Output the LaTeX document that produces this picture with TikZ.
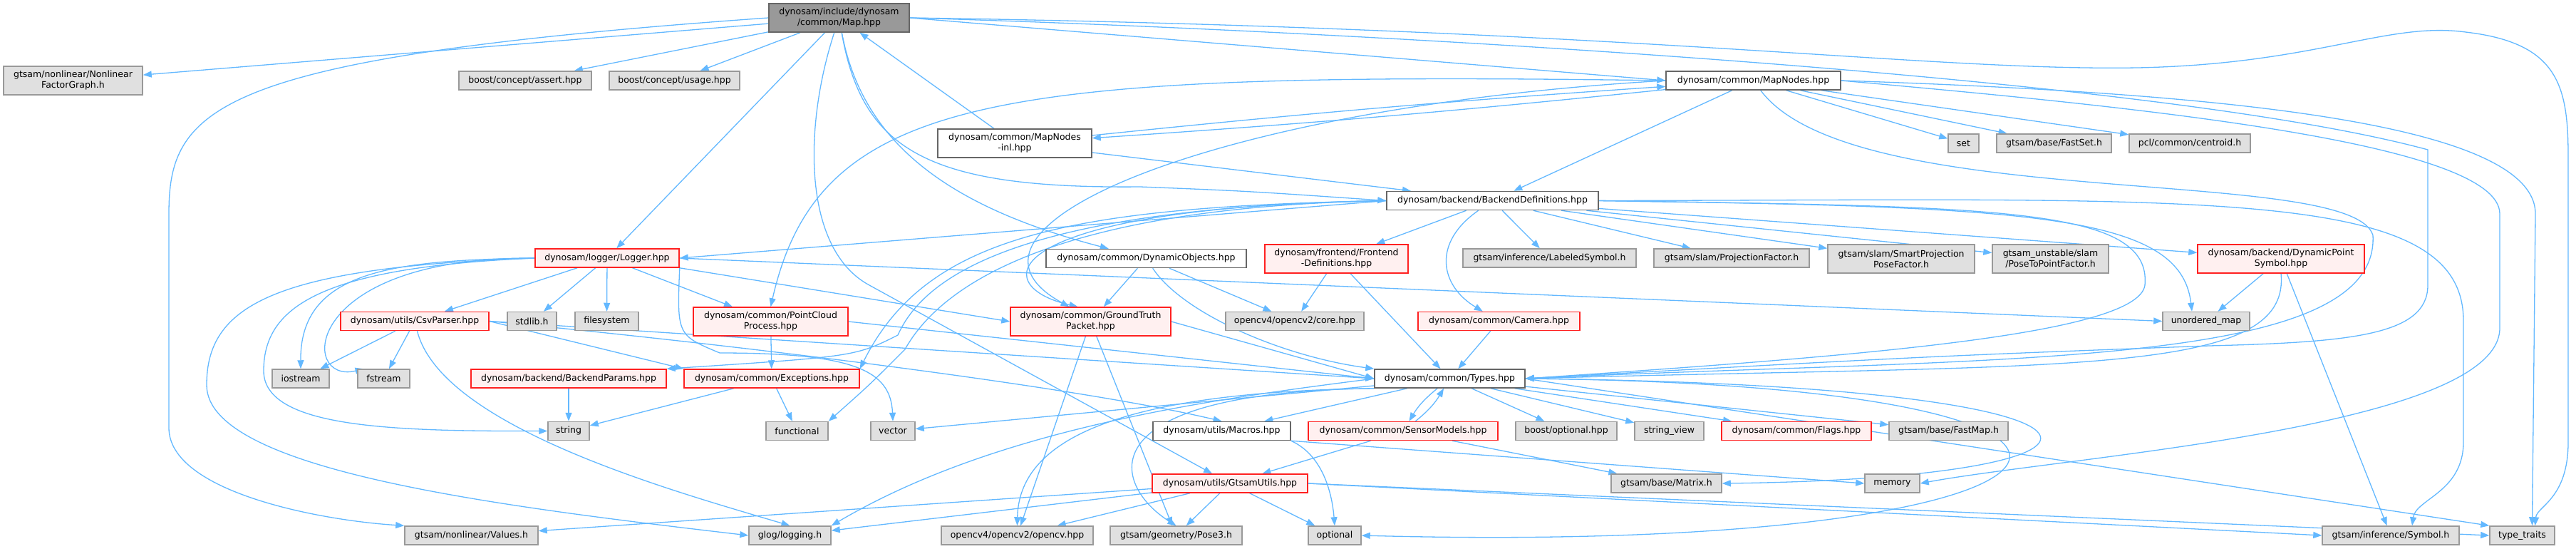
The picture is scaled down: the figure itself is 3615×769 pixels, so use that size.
\documentclass[tikz,border=0pt]{standalone}
\usepackage{fontspec}
\setmainfont{DejaVu Sans}
\usepackage{xcolor}
\usepackage{tikz}
\usetikzlibrary{arrows.meta,positioning,backgrounds}

\definecolor{edgeblue}{HTML}{63B8FF}
\definecolor{mainfill}{HTML}{999999}
\definecolor{mainline}{HTML}{666666}
\definecolor{extfill}{HTML}{E0E0E0}
\definecolor{extline}{HTML}{999999}
\definecolor{truncfill}{HTML}{FFF0F0}
\definecolor{truncline}{HTML}{FF2020}

\begin{document}
\begin{tikzpicture}[x=1pt, y=-1pt,
  file/.style={draw, line width=1.5pt, align=center, minimum height=26pt,
               inner xsep=3pt, inner ysep=0pt, font=\fontsize{12.5}{15}\selectfont},
  mainfile/.style={file, fill=mainfill, draw=mainline},
  localfile/.style={file, fill=white, draw=mainline},
  truncfile/.style={file, fill=truncfill, draw=truncline},
  extfile/.style={file, fill=extfill, draw=extline},
  wd/.style={minimum width=#1pt},
  tall/.style={minimum height=40pt},
  inc/.style={-{Triangle[length=12pt,width=9pt]}, draw=edgeblue, line width=1.3pt}
]
\useasboundingbox (0,0) rectangle (3615,769);

% top rows
\node[mainfile, wd=197, tall] (map) at (1177.5,25) {dynosam/include/dynosam\\/common/Map.hpp};
\node[extfile, wd=195, tall] (nfg) at (102.5,113) {gtsam/nonlinear/Nonlinear\\FactorGraph.h};
\node[extfile, wd=186] (assert) at (737,113) {boost/concept/assert.hpp};
\node[extfile, wd=183] (usage) at (946.5,113) {boost/concept/usage.hpp};
\node[localfile, wd=245] (mapnodes) at (2460.5,113) {dynosam/common/MapNodes.hpp};
\node[localfile, wd=216, tall] (mapnodesinl) at (1424,201) {dynosam/common/MapNodes\\-inl.hpp};
\node[extfile, wd=43] (set) at (2755.5,201) {set};
\node[extfile, wd=161] (fastset) at (2882.5,201) {gtsam/base/FastSet.h};
\node[extfile, wd=170] (centroid) at (3073,201) {pcl/common/centroid.h};
\node[localfile, wd=297] (backenddefs) at (2094.5,281.5) {dynosam/backend/BackendDefinitions.hpp};

% middle rows
\node[truncfile, wd=202] (logger) at (852,362) {dynosam/logger/Logger.hpp};
\node[localfile, wd=281] (dynobjects) at (1608.5,362.5) {dynosam/common/DynamicObjects.hpp};
\node[truncfile, wd=201, tall] (frontenddefs) at (1875.5,363) {dynosam/frontend/Frontend\\-Definitions.hpp};
\node[extfile, wd=243] (labeledsym) at (2174.5,362) {gtsam/inference/LabeledSymbol.h};
\node[extfile, wd=218] (projfactor) at (2430,362) {gtsam/slam/ProjectionFactor.h};
\node[extfile, wd=206, tall] (smartproj) at (2668,363) {gtsam/slam/SmartProjection\\PoseFactor.h};
\node[extfile, wd=163, tall] (posetopoint) at (2877.5,363) {gtsam\_unstable/slam\\/PoseToPointFactor.h};
\node[truncfile, wd=234, tall] (dynpointsym) at (3201,363) {dynosam/backend/DynamicPoint\\Symbol.hpp};
\node[truncfile, wd=208] (csvparser) at (582,450.5) {dynosam/utils/CsvParser.hpp};
\node[extfile, wd=69] (stdlib) at (746.5,450.5) {stdlib.h};
\node[extfile, wd=89] (filesystem) at (851.5,450.5) {filesystem};
\node[truncfile, wd=217, tall] (pcprocess) at (1081.5,451) {dynosam/common/PointCloud\\Process.hpp};
\node[truncfile, wd=225, tall] (gtpacket) at (1530.5,451) {dynosam/common/GroundTruth\\Packet.hpp};
\node[extfile, wd=194] (cvcore) at (1817,450.5) {opencv4/opencv2/core.hpp};
\node[truncfile, wd=227] (camera) at (2103.5,450.5) {dynosam/common/Camera.hpp};
\node[extfile, wd=122] (unorderedmap) at (3096,450.5) {unordered\_map};
\node[extfile, wd=80] (iostream) at (422,531) {iostream};
\node[extfile, wd=73] (fstream) at (538.5,531) {fstream};
\node[truncfile, wd=274] (backendparams) at (798,531) {dynosam/backend/BackendParams.hpp};
\node[truncfile, wd=246] (exceptions) at (1083,531) {dynosam/common/Exceptions.hpp};
\node[localfile, wd=211] (types) at (2034.5,531) {dynosam/common/Types.hpp};

% lower rows
\node[extfile, wd=58] (string) at (798,604.5) {string};
\node[extfile, wd=87] (functional) at (1118.5,604.5) {functional};
\node[extfile, wd=62] (vector) at (1253,604.5) {vector};
\node[localfile, wd=193] (macros) at (1714.5,604.5) {dynosam/utils/Macros.hpp};
\node[truncfile, wd=266] (sensormodels) at (1969,604.5) {dynosam/common/SensorModels.hpp};
\node[extfile, wd=142] (boostoptional) at (2198,604.5) {boost/optional.hpp};
\node[extfile, wd=97] (stringview) at (2342.5,604.5) {string\_view};
\node[truncfile, wd=210] (flags) at (2521,604.5) {dynosam/common/Flags.hpp};
\node[extfile, wd=167] (fastmap) at (2734.5,604.5) {gtsam/base/FastMap.h};
\node[truncfile, wd=218] (gtsamutils) at (1726,678) {dynosam/utils/GtsamUtils.hpp};
\node[extfile, wd=155] (matrix) at (2338.5,678) {gtsam/base/Matrix.h};
\node[extfile, wd=77] (memory) at (2655.5,678) {memory};
\node[extfile, wd=187] (values) at (661.5,751) {gtsam/nonlinear/Values.h};
\node[extfile, wd=115] (glog) at (1108.5,751) {glog/logging.h};
\node[extfile, wd=213] (opencv) at (1427.5,751) {opencv4/opencv2/opencv.hpp};
\node[extfile, wd=185] (pose3) at (1650.5,751) {gtsam/geometry/Pose3.h};
\node[extfile, wd=74] (optional) at (1873,751) {optional};
\node[extfile, wd=192] (symbol) at (3355,751) {gtsam/inference/Symbol.h};
\node[extfile, wd=91] (typetraits) at (3539.5,751) {type\_traits};

\begin{scope}[on background layer]
% Map.hpp
\foreach \t in {nfg,assert,usage,logger} \draw[inc] (map) -- (\t);
\draw[inc] (map.east) -- (mapnodes.west);
\draw[inc] (map.west) .. controls (300,80) and (237,150) .. (237,300) -- (237,600)
  .. controls (237,690) and (450,730) .. (values.north west);
\draw[inc] (map) .. controls (1127,180) and (1127,350) .. (1220,400) -- (gtsamutils);
\draw[inc] (map) .. controls (1210,200) and (1330,290) .. (dynobjects);
\draw[inc] (map) .. controls (1210,210) and (1300,265) .. (1600,262) .. controls (1750,268) .. (backenddefs.west);
\draw[inc] (map.east) .. controls (2300,40) and (2700,100) .. (3000,95) .. controls (3250,90) and (3350,30) .. (3460,45)
  .. controls (3590,60) and (3604,120) .. (3604,220) -- (3604,620) .. controls (3604,700) and (3560,710) .. ([xshift=18pt]typetraits.north);
\draw[inc] (map.east) .. controls (1800,40) and (3000,100) .. (3407,210) -- (3407,400)
  .. controls (3407,470) and (3300,480) .. (3100,485) .. controls (2700,500) .. (types.east);

% MapNodes
\draw[inc] (mapnodesinl) -- (map);
\draw[inc] (mapnodesinl) to[bend left=1] (mapnodes);
\draw[inc] (mapnodes) to[bend left=1] (mapnodesinl);
\draw[inc] (mapnodesinl) -- (backenddefs);
\foreach \t in {set,fastset,centroid,backenddefs} \draw[inc] (mapnodes) -- (\t);
\draw[inc] (mapnodes.west) .. controls (1400,100) and (1150,130) .. (pcprocess.north);
\draw[inc] (mapnodes.west) .. controls (1700,150) and (1300,320) .. ([xshift=-30pt]gtpacket.north);
\draw[inc] (mapnodes) .. controls (2600,300) and (3300,230) .. (3330,330) .. controls (3340,520) and (2800,500) .. (types.east);
\draw[inc] (mapnodes.east) .. controls (3000,150) and (3508,200) .. (3508,300) -- (3508,460)
  .. controls (3508,600) and (2900,640) .. (memory.east);
\draw[inc] (mapnodes.east) .. controls (3100,130) and (3558,170) .. (3558,300) -- ([xshift=14pt]typetraits.north);

% BackendDefinitions
\foreach \t in {frontenddefs,labeledsym,projfactor,smartproj,posetopoint,dynpointsym} \draw[inc] (backenddefs) -- (\t);
\draw[inc] (backenddefs) .. controls (2010,340) and (2020,400) .. (camera);
\draw[inc] (backenddefs.east) .. controls (2850,290) and (3060,300) .. ([xshift=-20pt]unorderedmap.north);
\draw[inc] (backenddefs.east) .. controls (2800,290) and (3020,290) .. (3010,400) .. controls (3000,470) and (2600,500) .. (types.east);
\draw[inc] (backenddefs.east) .. controls (3100,280) and (3457,260) .. (3457,450) -- (3457,620)
  .. controls (3457,690) and (3390,700) .. ([xshift=30pt]symbol.north);
\draw[inc] (backenddefs.west) -- (logger.east);
\draw[inc] (backenddefs.west) .. controls (1400,290) and (1380,400) .. ([xshift=-18pt]gtpacket.north);
\draw[inc] (backenddefs.west) .. controls (1500,290) and (1300,330) .. (exceptions.north east);
\draw[inc] (backenddefs.west) .. controls (1450,290) and (1300,380) .. (1260,470) .. controls (1200,500) .. (backendparams.north east);
\draw[inc] (backenddefs.west) .. controls (1480,290) and (1320,400) .. (1270,490) .. controls (1220,540) .. (functional.north east);

% Logger
\foreach \t in {csvparser,stdlib,filesystem,pcprocess} \draw[inc] (logger) -- (\t);
\draw[inc] (logger.west) .. controls (550,365) and (421,380) .. (iostream.north);
\draw[inc] (logger.west) .. controls (420,360) and (420,540) .. ([xshift=-28pt]fstream.north);
\draw[inc] (logger.west) .. controls (450,375) and (370,430) .. (370,520) .. controls (370,600) and (550,605) .. (string.west);
\draw[inc] (logger.west) .. controls (380,375) and (290,430) .. (290,540) .. controls (290,660) and (700,710) .. (glog.west);
\draw[inc] (logger.east) -- (unorderedmap.west);
\draw[inc] (logger.south east) -- (gtpacket.west);
\draw[inc] (logger.south east) .. controls (950,470) .. (1010,495) .. controls (1200,495) and (1250,520) .. (vector.north);

% CsvParser, PointCloud
\draw[inc] (csvparser) -- (iostream);
\draw[inc] (csvparser) -- (fstream);
\draw[inc] (csvparser) .. controls (620,600) and (950,690) .. (glog.north);
\draw[inc] (csvparser.east) -- (exceptions.north west);
\draw[inc] (csvparser.east) -- (types.west);
\draw[inc] (csvparser.east) .. controls (1000,480) and (1500,540) .. (macros.north);
\draw[inc] (pcprocess) -- (exceptions);
\draw[inc] (pcprocess.east) -- (types.west);

% GroundTruth, DynamicObjects, Frontend, Camera, DynamicPoint
\draw[inc] (gtpacket.east) -- (types.west);
\draw[inc] (gtpacket) -- (opencv);
\draw[inc] (gtpacket) -- (pose3);
\draw[inc] (dynobjects) -- (gtpacket);
\draw[inc] (dynobjects) -- (cvcore);
\draw[inc] (dynobjects) .. controls (1660,440) and (1800,500) .. (types.north west);
\draw[inc] (frontenddefs) -- (cvcore);
\draw[inc] (frontenddefs) -- (types);
\draw[inc] (camera) -- (types);
\draw[inc] (dynpointsym) -- (unorderedmap);
\draw[inc] (dynpointsym.south) .. controls (3215,530) and (2900,510) .. (types.east);
\draw[inc] (dynpointsym) -- (symbol);

% Exceptions, BackendParams
\draw[inc] (exceptions) -- (string);
\draw[inc] (exceptions) -- (functional);
\draw[inc] (backendparams) -- (string);

% Types
\foreach \t in {vector,macros,boostoptional,stringview,flags,fastmap} \draw[inc] (types) -- (\t);
\draw[inc] (types) to[bend right=10] (sensormodels);
\draw[inc] (sensormodels) to[bend right=10] (types);
\draw[inc] (types.east) .. controls (3050,540) and (3050,670) .. (matrix.east);
\draw[inc] (types.east) .. controls (3150,540) and (3000,780) .. (optional.east);
\draw[inc] (types.east) -- (typetraits.north west);
\draw[inc] (types.west) .. controls (1700,560) and (1400,600) .. (glog.north east);
\draw[inc] (types.south west) .. controls (1560,550) and (1430,620) .. (opencv.north);
\draw[inc] (types.south west) .. controls (1520,550) and (1560,680) .. (pose3.north);

% SensorModels, Macros, GtsamUtils
\draw[inc] (sensormodels) -- (gtsamutils);
\draw[inc] (sensormodels) -- (matrix);
\draw[inc] (macros.south east) -- (memory.west);
\draw[inc] (macros.south east) .. controls (1860,640) and (1870,700) .. (optional.north);
\foreach \t in {values,glog,opencv,pose3,optional} \draw[inc] (gtsamutils) -- (\t);
\draw[inc] (gtsamutils.east) -- (symbol.west);
\draw[inc] (gtsamutils.east) -- (typetraits.west);
\end{scope}

\end{tikzpicture}
\end{document}
